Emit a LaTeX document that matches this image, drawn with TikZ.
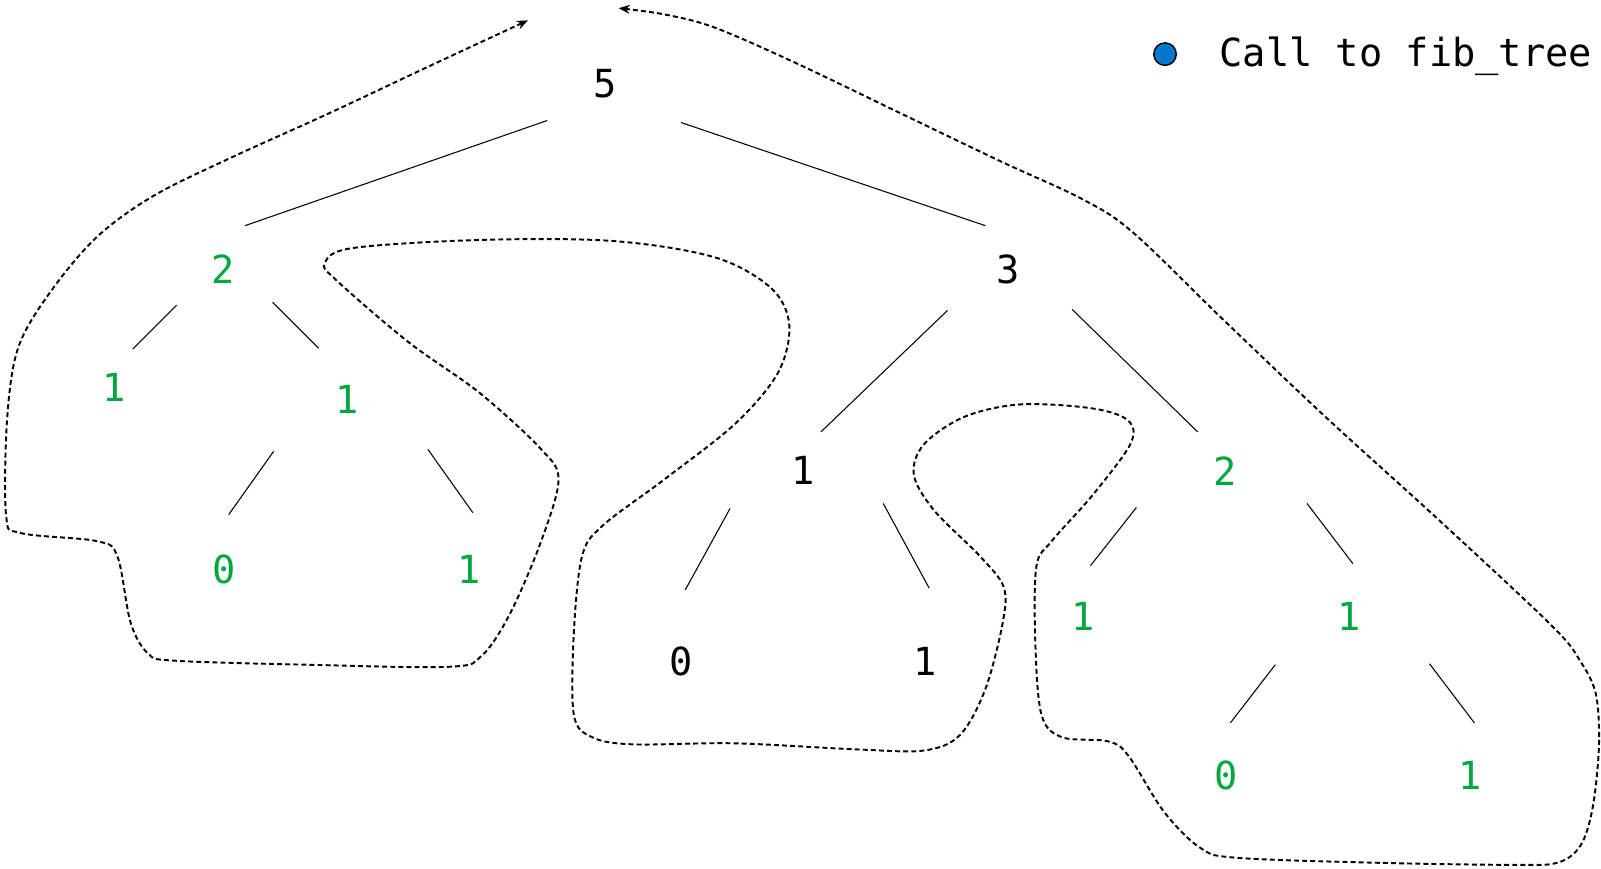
\documentclass[tikz,border=0pt]{standalone}
\usepackage{fontspec}
\newfontfamily\codefont[RawFeature=+zero]{DejaVu Sans Mono}
\usetikzlibrary{arrows.meta}
\definecolor{callgreen}{RGB}{0,168,61}
\definecolor{callblue}{RGB}{0,120,206}

\begin{document}
\begin{tikzpicture}[
        x=0.02042cm, y=-0.02042cm,
        num/.style={font=\codefont\fontsize{22}{26}\selectfont, inner sep=0pt},
        greennum/.style={num, text=callgreen},
        branch/.style={line width=0.6pt},
        trace/.style={line width=1.1pt, dash pattern=on 2.8pt off 1.8pt,
                      >={Stealth[length=2.2mm, width=1.8mm]}, <->}
    ]
        \useasboundingbox (0,0) rectangle (1568,851);

        % legend
        \node[circle, draw, line width=0.8pt, fill=callblue, minimum size=4.5mm, inner sep=0pt] (dot) at (1141,53) {};
        \node[num, anchor=base west] (legend) at (1194,65) {Call to fib\_tree};

        % the calls
        \node[num] (n5) at (593,82) {5};
        \node[greennum] (n2) at (219,264) {2};
        \node[num] (n3) at (987,264) {3};
        \node[greennum] (n1a) at (112,379) {1};
        \node[greennum] (n1b) at (340,391) {1};
        \node[greennum] (n0a) at (220,558) {0};
        \node[greennum] (n1c) at (459,558) {1};
        \node[num] (n1d) at (787,461) {1};
        \node[greennum] (n2b) at (1200,461) {2};
        \node[num] (n0b) at (667,648) {0};
        \node[num] (n1e) at (906,648) {1};
        \node[greennum] (n1f) at (1061,604) {1};
        \node[greennum] (n1g) at (1321,604) {1};
        \node[greennum] (n0c) at (1201,759) {0};
        \node[greennum] (n1h) at (1440,759) {1};

        \draw[branch] ([shift={(-57,36)}]n5.center) -- ([shift={(21,-43)}]n2.center);
        \draw[branch] ([shift={(74,38)}]n5.center) -- ([shift={(-22,-43)}]n3.center);
        \draw[branch] ([shift={(-46,35)}]n2.center) -- ([shift={(18,-37)}]n1a.center);
        \draw[branch] ([shift={(48,32)}]n2.center) -- ([shift={(-28,-50)}]n1b.center);
        \draw[branch] ([shift={(-72,51)}]n1b.center) -- ([shift={(4,-54)}]n0a.center);
        \draw[branch] ([shift={(79,49)}]n1b.center) -- ([shift={(4,-56)}]n1c.center);
        \draw[branch] ([shift={(-59,40)}]n3.center) -- ([shift={(17,-38)}]n1d.center);
        \draw[branch] ([shift={(63,39)}]n3.center) -- ([shift={(-27,-38)}]n2b.center);
        \draw[branch] ([shift={(-72,37)}]n1d.center) -- ([shift={(4,-70)}]n0b.center);
        \draw[branch] ([shift={(78,32)}]n1d.center) -- ([shift={(4,-72)}]n1e.center);
        \draw[branch] ([shift={(-87,36)}]n2b.center) -- ([shift={(7,-50)}]n1f.center);
        \draw[branch] ([shift={(80,32)}]n2b.center) -- ([shift={(4,-52)}]n1g.center);
        \draw[branch] ([shift={(-72,47)}]n1g.center) -- ([shift={(4,-51)}]n0c.center);
        \draw[branch] ([shift={(79,46)}]n1g.center) -- ([shift={(4,-51)}]n1h.center);

        % order of the calls
        \draw[trace] plot[smooth, tension=0.55] coordinates {
            (517,20) (420,65) (320,112) (225,155) (150,192) (95,232) (50,285)
            (18,340) (7,410) (6,505) (20,522) (95,530) (115,545) (128,610)
            (145,640) (170,647)
            (300,651) (440,653) (472,642) (500,600) (530,530) (547,470)
            (530,440) (470,385) (400,335) (330,275) (318,258) (345,243)
            (470,235) (600,236) (700,252) (755,282) (773,318) (762,365)
            (720,415) (650,470) (590,515) (570,545) (562,620) (562,700)
            (580,722) (620,729) (720,728) (840,734) (905,735) (940,720)
            (965,675) (982,610) (983,575) (960,545) (915,500) (895,465)
            (905,435) (945,408) (1000,396) (1070,400) (1105,412) (1107,435)
            (1070,485) (1030,530) (1015,555) (1014,630) (1020,700) (1040,722)
            (1085,726) (1105,740) (1140,795) (1175,830) (1210,840) (1350,845)
            (1480,847) (1525,845) (1548,828) (1560,790) (1566,730) (1563,680)
            (1548,648) (1520,613) (1410,510) (1300,410) (1200,315) (1110,228)
            (1060,195) (980,158) (880,110) (780,62) (700,27) (650,14) (606,8)};
\end{tikzpicture}
\end{document}
